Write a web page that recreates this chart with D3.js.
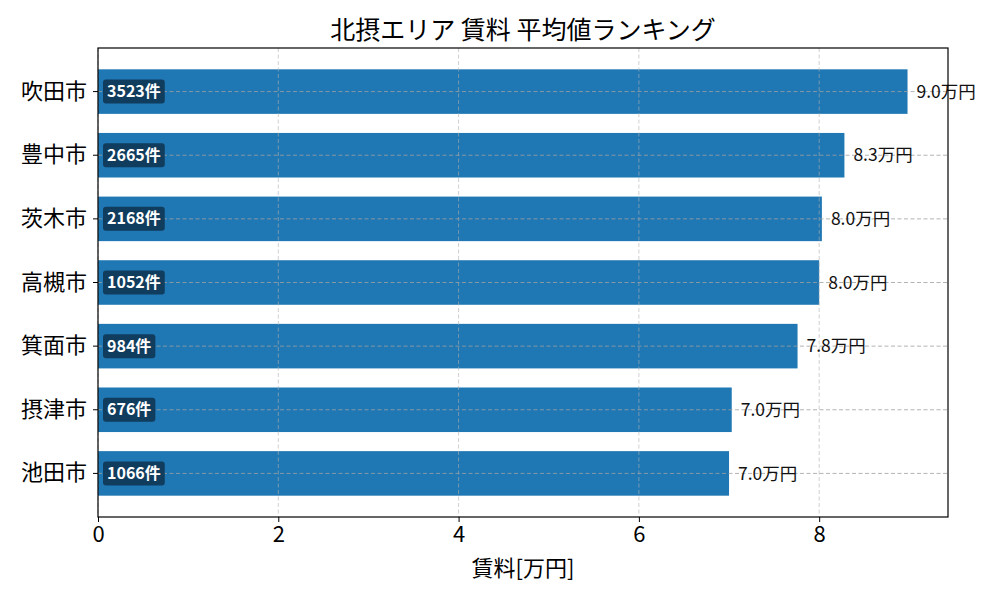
<!DOCTYPE html>
<html>
<head>
<meta charset="utf-8">
<script src="https://cdn.jsdelivr.net/npm/d3@7"></script>
<style>
  body { margin: 0; background: #fff; }
  text { font-family: "Noto Sans CJK JP", "Noto Sans", sans-serif; }
</style>
</head>
<body>
<svg id="chart"></svg>
<script>
// data
const cities = ['吹田市', '豊中市', '茨木市', '高槻市', '箕面市', '摂津市', '池田市']
const rents = [8.98, 8.28, 8.03, 8.0, 7.76, 7.03, 7.0]
const rentLabels = ['9.0万円', '8.3万円', '8.0万円', '8.0万円', '7.8万円', '7.0万円', '7.0万円']
const counts = [3523, 2665, 2168, 1052, 984, 676, 1066]
const xTicks = [0, 2, 4, 6, 8]

const width = 1000, height = 600
const margin = {top: 48, right: 52, bottom: 83, left: 98}
const innerW = width - margin.left - margin.right
const innerH = height - margin.top - margin.bottom

const svg = d3.select('#chart')
  .attr('width', width)
  .attr('height', height)

const g = svg.append('g')
  .attr('transform', `translate(${margin.left},${margin.top})`)

const x = d3.scaleLinear()
  .domain([0, d3.max(rents) * 1.05])
  .range([0, innerW])

const y = d3.scaleBand()
  .domain(cities)
  .range([0, innerH])
  .paddingInner(0.3)
  .paddingOuter(0.335)

const rows = cities.map((c, i) => ({city: c, rent: rents[i], label: rentLabels[i], count: counts[i]}))

// bars
g.selectAll('.bar')
  .data(rows)
  .enter()
  .append('rect')
  .attr('class', 'bar')
  .attr('x', 0)
  .attr('y', d => y(d.city))
  .attr('width', d => x(d.rent))
  .attr('height', y.bandwidth())
  .attr('fill', '#1f77b4')

// grid (drawn over the bars)
g.append('g')
  .selectAll('line')
  .data(xTicks)
  .enter()
  .append('line')
  .attr('x1', d => x(d)).attr('x2', d => x(d))
  .attr('y1', 0).attr('y2', innerH)
  .attr('stroke', '#b0b0b0')
  .attr('stroke-opacity', 0.6)
  .attr('stroke-dasharray', '4,2.5')

g.append('g')
  .selectAll('line')
  .data(cities)
  .enter()
  .append('line')
  .attr('x1', 0).attr('x2', innerW)
  .attr('y1', d => y(d) + y.bandwidth() / 2)
  .attr('y2', d => y(d) + y.bandwidth() / 2)
  .attr('stroke', '#a0a0a0')
  .attr('stroke-opacity', 0.8)
  .attr('stroke-dasharray', '4,2.5')

// count badges
const badges = g.selectAll('.badge')
  .data(rows)
  .enter()
  .append('g')
  .attr('class', 'badge')
  .attr('transform', d => `translate(5,${y(d.city) + y.bandwidth() / 2})`)

badges.append('text')
  .attr('x', 4)
  .attr('dy', '0.35em')
  .attr('font-size', '16px')
  .attr('font-weight', 'bold')
  .attr('fill', '#fff')
  .text(d => d.count + '件')

badges.each(function () {
  const t = d3.select(this).select('text')
  const bb = t.node().getBBox()
  d3.select(this).insert('rect', 'text')
    .attr('x', 0)
    .attr('y', -12)
    .attr('width', bb.width + 8)
    .attr('height', 24)
    .attr('rx', 3)
    .attr('fill', '#0f3756')
    .attr('fill-opacity', 0.92)
})

// value labels
g.selectAll('.val')
  .data(rows)
  .enter()
  .append('text')
  .attr('class', 'val')
  .attr('x', d => x(d.rent) + 9)
  .attr('y', d => y(d.city) + y.bandwidth() / 2)
  .attr('dy', '0.35em')
  .attr('font-size', '17.5px')
  .attr('fill', '#111')
  .text(d => d.label)

// axes
const xAxis = g.append('g')
  .attr('transform', `translate(0,${innerH})`)
  .call(d3.axisBottom(x).tickValues(xTicks).tickFormat(d3.format('d')).tickSize(5).tickPadding(4))
xAxis.selectAll('text').attr('font-size', '22px').attr('fill', '#000')

const yAxis = g.append('g')
  .call(d3.axisLeft(y).tickSize(5).tickPadding(6))
yAxis.selectAll('text').attr('font-size', '22px').attr('fill', '#000')

;[xAxis, yAxis].forEach(a => {
  a.select('.domain').remove()
  a.selectAll('line').attr('stroke', '#000').attr('stroke-width', 1)
})

// frame
g.append('rect')
  .attr('width', innerW)
  .attr('height', innerH)
  .attr('fill', 'none')
  .attr('stroke', '#000')
  .attr('stroke-width', 1.2)

// titles
svg.append('text')
  .attr('x', margin.left + innerW / 2)
  .attr('y', 39)
  .attr('text-anchor', 'middle')
  .attr('font-size', '25px')
  .text('北摂エリア 賃料 平均値ランキング')

svg.append('text')
  .attr('x', margin.left + innerW / 2)
  .attr('y', 576)
  .attr('text-anchor', 'middle')
  .attr('font-size', '22px')
  .text('賃料[万円]')
</script>
</body>
</html>
